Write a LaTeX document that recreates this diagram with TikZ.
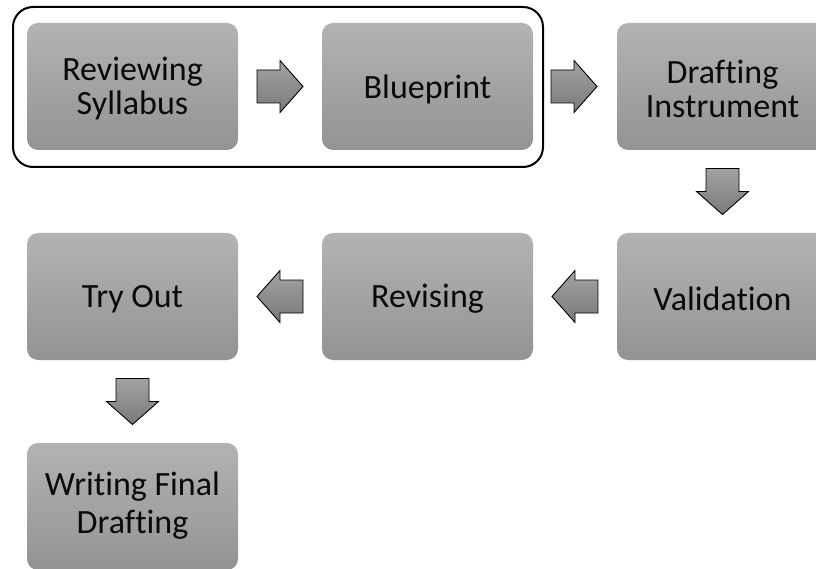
\documentclass[tikz,border=0pt]{standalone}
\usepackage{fontspec}
\setmainfont{Carlito}[Ligatures=NoCommon]
\usetikzlibrary{calc}
\definecolor{boxtop}{HTML}{B3B3B3}
\definecolor{boxbot}{HTML}{939393}
\definecolor{arrtop}{HTML}{A2A2A2}
\definecolor{arrbot}{HTML}{7A7A7A}
\definecolor{txt}{HTML}{0A0A0A}
\tikzset{
  stepbox/.style={rectangle, rounded corners=11pt, minimum width=211pt, minimum height=127pt,
    top color=boxtop, bottom color=boxbot, draw=none, inner sep=0pt},
  steptext/.style={text=txt, align=center, font=\fontsize{34pt}{34pt}\selectfont, inner sep=0pt},
  blockarrow/.style={draw=black, line width=0.9pt, top color=arrtop, bottom color=arrbot, line join=miter},
  groupbox/.style={draw=black, line width=2pt, rounded corners=20pt}
}
\newcommand{\blockarr}[2]{%
  \path[blockarrow, shift={(#1)}, rotate=#2] (-23,-16.5) -- (0,-16.5) -- (0,-26) -- (23,0) -- (0,26) -- (0,16.5) -- (-23,16.5) -- cycle;}
\begin{document}
\begin{tikzpicture}[x=1pt,y=-1pt]
\useasboundingbox (0,0) rectangle (816,569);
\clip (0,0) rectangle (816,569);
\fill[white] (0,0) rectangle (816,569);
\draw[groupbox] (13,7) rectangle (543,167);
\node[stepbox] (rev) at (132.5,86.5) {};
\node[stepbox] (blue) at (427.5,86.5) {};
\node[stepbox] (draft) at (722.5,86.5) {};
\node[stepbox] (val) at (722.5,296.5) {};
\node[stepbox] (revis) at (427.5,296.5) {};
\node[stepbox] (try) at (132.5,296.5) {};
\node[stepbox] (final) at (132.5,506.5) {};
\node[steptext] (trev) at ($(rev.center)+(0,2.5)$) {Reviewing\\Syllabus};
\node[steptext] (tblue) at ($(blue.center)+(0,2.5)$) {Blueprint};
\node[steptext] (tdraft) at ($(draft.center)+(0,2.5)$) {Drafting\\Instrument};
\node[steptext] (tval) at ($(val.center)+(0,2.5)$) {Validation};
\node[steptext] (trevis) at ($(revis.center)+(0,2.5)$) {Revising};
\node[steptext] (ttry) at ($(try.center)+(0,2.5)$) {Try Out};
\node[steptext, font=\fontsize{34pt}{38pt}\selectfont] (tfinal) at ($(final.center)+(0,-1)$) {Writing Final\\Drafting};
\coordinate (a1) at ($(rev.east)!0.5!(blue.west)$);
\coordinate (a2) at ($(blue.east)!0.5!(draft.west)+(-1,0)$);
\coordinate (a3) at ($(draft.south)!0.5!(val.north)$);
\coordinate (a4) at ($(val.west)!0.5!(revis.east)$);
\coordinate (a5) at ($(revis.west)!0.5!(try.east)$);
\coordinate (a6) at ($(try.south)!0.5!(final.north)$);
\blockarr{a1}{0}
\blockarr{a2}{0}
\blockarr{a3}{-90}
\blockarr{a4}{180}
\blockarr{a5}{180}
\blockarr{a6}{-90}
\end{tikzpicture}
\end{document}
